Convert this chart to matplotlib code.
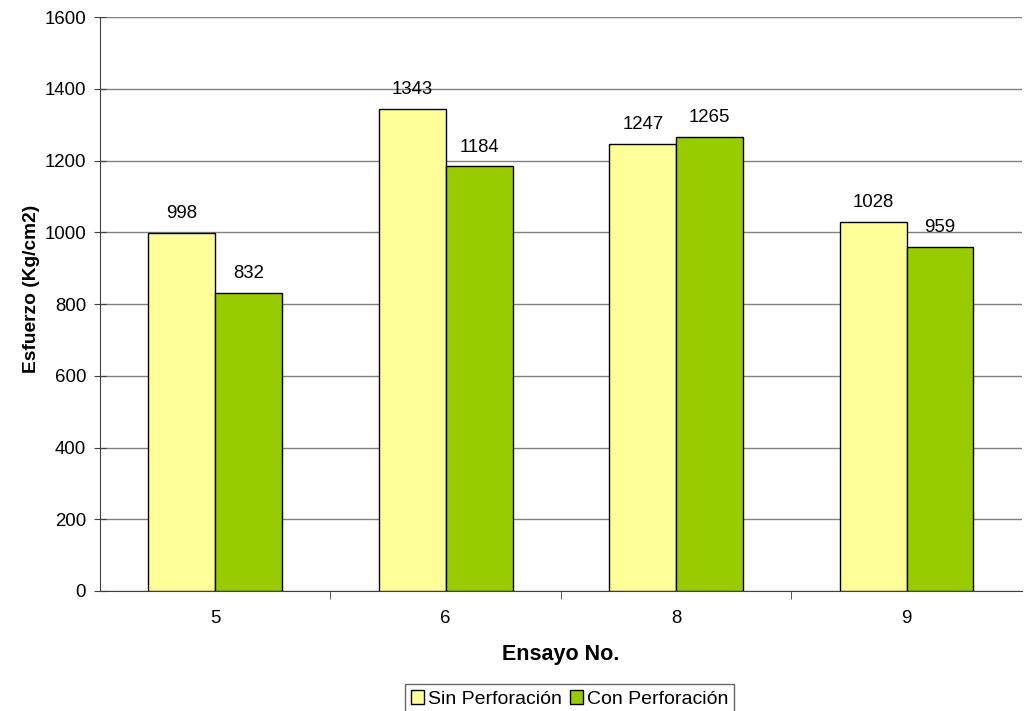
import numpy as np
import matplotlib.pyplot as plt
from matplotlib.ticker import FixedLocator

plt.rcParams['font.family'] = ['Liberation Sans', 'DejaVu Sans']
plt.rcParams['font.size'] = 13

ensayos = ['5', '6', '8', '9']
sin_perforacion = [998, 1343, 1247, 1028]
con_perforacion = [832, 1184, 1265, 959]

fig = plt.figure(figsize=(10.3, 7.11), dpi=100)
ax = fig.add_axes([0.0971, 0.1688, 0.8950, 0.8072])

x = np.arange(len(ensayos))
w = 0.29
b1 = ax.bar(x - w / 2, sin_perforacion, w, color='#FFFF99', edgecolor='black',
            linewidth=1.0, label='Sin Perforación', zorder=3)
b2 = ax.bar(x + w / 2, con_perforacion, w, color='#99CC00', edgecolor='black',
            linewidth=1.0, label='Con Perforación', zorder=3)

# valor encima de cada barra
for bars, vals in ((b1, sin_perforacion), (b2, con_perforacion)):
    for r, v in zip(bars, vals):
        ax.text(r.get_x() + r.get_width() / 2, v + 30, str(v),
                ha='center', va='bottom', fontsize=13.4)

ax.set_xlim(-0.5, len(ensayos) - 0.5)
ax.set_ylim(0, 1600)
ax.set_yticks(np.arange(0, 1601, 200))
ax.yaxis.grid(True, color='#808080', linewidth=1.0, zorder=0)
ax.set_axisbelow(True)

ax.set_xticks(x)
ax.set_xticklabels(ensayos)
ax.xaxis.set_minor_locator(FixedLocator(np.arange(0.5, len(ensayos) - 1, 1.0)))
ax.tick_params(axis='x', which='major', length=0, pad=14, labelsize=13.4)
ax.tick_params(axis='x', which='minor', length=6, direction='out', color='#404040')
ax.tick_params(axis='y', which='major', length=8, direction='inout', color='#404040',
               pad=6, labelsize=13.4)

for s in ('top', 'right'):
    ax.spines[s].set_visible(False)
ax.spines['left'].set_color('#404040')
ax.spines['bottom'].set_color('#404040')

ax.set_xlabel('Ensayo No.', fontweight='bold', fontsize=15.5, labelpad=12)
ax.set_ylabel('Esfuerzo (Kg/cm2)', fontweight='bold', fontsize=13.8, labelpad=3)
ax.yaxis.label.set_y(0.526)

leg = fig.legend(handles=[b1, b2], loc='lower center', bbox_to_anchor=(0.553, -0.012),
                 ncol=2, frameon=True, fancybox=False, edgecolor='#404040',
                 handlelength=0.7, handleheight=0.7, handletextpad=0.2,
                 columnspacing=0.4, borderpad=0.3, borderaxespad=0.3, fontsize=14)
leg.get_frame().set_linewidth(1.0)

fig.savefig('out.png', dpi=100)
